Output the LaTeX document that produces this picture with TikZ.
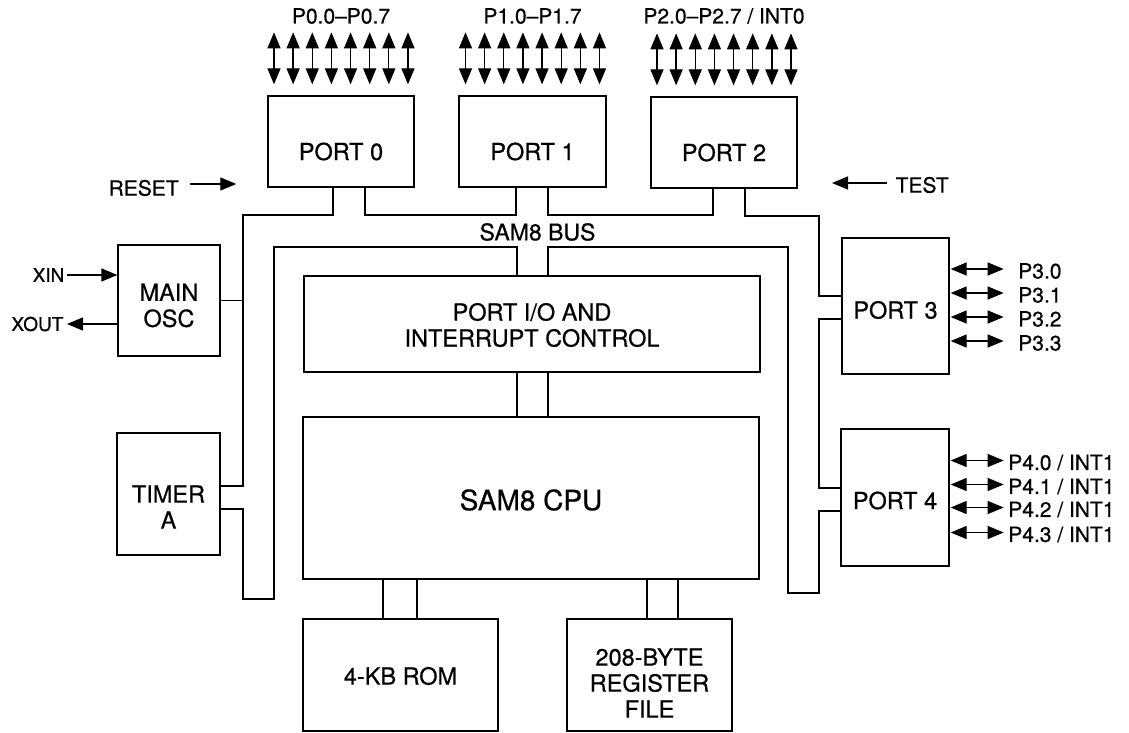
\documentclass[tikz,border=0pt]{standalone}
\usepackage{fontspec}
\setmainfont{TeX Gyre Heros}[FakeBold=0.6]
\usetikzlibrary{arrows.meta}
\begin{document}
\begin{tikzpicture}[x=1pt,y=-1pt,line width=1.3pt,
  box/.style={draw,rectangle,inner sep=0pt,line width=1.3pt},
  boxfont/.style={font=\fontsize{23.5}{26}\selectfont,align=center,inner sep=0pt},
  lbl/.style={font=\fontsize{21}{24}\selectfont,inner sep=0pt},
  xlbl/.style={font=\fontsize{19}{22}\selectfont,inner sep=0pt},
  bus/.style={line width=1.3pt,line join=miter},
  tip/.tip={Triangle[length=16pt,width=13pt]},
  bidir/.style={line width=1.3pt,tip-tip},
  uni/.style={line width=1.3pt,-tip}]

\useasboundingbox (0,0) rectangle (1129,733);

% boxes
\node[box,minimum width=146pt,minimum height=91pt,label={[boxfont,yshift=-10pt]center:PORT 0}] (port0) at (341,141.5) {};
\node[box,minimum width=147pt,minimum height=91pt,label={[boxfont,yshift=-10pt]center:PORT 1}] (port1) at (532.5,141.5) {};
\node[box,minimum width=146pt,minimum height=91pt,label={[boxfont,yshift=-10pt]center:PORT 2}] (port2) at (724,142.5) {};
\node[box,minimum width=102pt,minimum height=111pt,label={[boxfont,yshift=-5pt]center:MAIN\\OSC}] (osc) at (169,300.5) {};
\node[box,minimum width=103pt,minimum height=122pt,label={[boxfont,yshift=-13pt]center:TIMER\\A}] (timer) at (168.5,494) {};
\node[box,minimum width=456pt,minimum height=96pt,label={[boxfont,yshift=-1pt]center:PORT I/O AND\\INTERRUPT CONTROL}] (pio) at (532,324) {};
\node[box,minimum width=456pt,minimum height=162pt,label={[boxfont,font=\fontsize{28}{31}\selectfont,yshift=-2pt]center:SAM8 CPU}] (cpu) at (531,498) {};
\node[box,minimum width=195pt,minimum height=112pt,label={[boxfont,yshift=-1pt]center:4-KB ROM}] (rom) at (400.5,675) {};
\node[box,minimum width=165pt,minimum height=112pt,label={[boxfont,yshift=-8pt]center:208-BYTE\\REGISTER\\FILE}] (reg) at (649.5,675) {};
\node[box,minimum width=107pt,minimum height=136pt,label={[boxfont,yshift=-4pt]center:PORT 3}] (port3) at (895.5,306) {};
\node[box,minimum width=108pt,minimum height=137pt,label={[boxfont,yshift=-3pt]center:PORT 4}] (port4) at (895,497.5) {};

% bus lines
\draw[bus] (port0.south -| 333,0) -- (333,215) -- (243,215) -- (243,486) -- (timer.east |- 0,486);
\draw[bus] (osc.east) -- (osc.east -| 243,0);
\draw[bus] (port0.south -| 365,0) |- (516,215) -- (port1.south -| 516,0);
\draw[bus] (port1.south -| 548,0) |- (713,215) -- (port2.south -| 713,0);
\draw[bus] (port2.south -| 745,0) |- (819,216) |- (port3.west |- 0,296);
\draw[bus] (port3.west |- 0,319) -| (819,488) -- (port4.west |- 0,488);
\draw[bus] (port4.west |- 0,511) -| (819,593) -- (788,593) -- (788,247) -- (548,247) -- (pio.north -| 548,0);
\draw[bus] (timer.east |- 0,509) -- (243,509) -- (243,599) -- (274,599) -- (274,247) -- (517,247) -- (pio.north -| 517,0);
\draw[bus] (pio.south -| 517,0) -- (cpu.north -| 517,0);
\draw[bus] (pio.south -| 548,0) -- (cpu.north -| 548,0);
\draw[bus] (cpu.south -| 383,0) -- (rom.north -| 383,0);
\draw[bus] (cpu.south -| 417,0) -- (rom.north -| 417,0);
\draw[bus] (cpu.south -| 647,0) -- (reg.north -| 647,0);
\draw[bus] (cpu.south -| 678,0) -- (reg.north -| 678,0);

% top pin arrows
\foreach \p in {port0,port1,port2}{
  \foreach \i in {0,...,7}{
    \draw[bidir] ([shift={(-67+\i*19.14,-11)}]\p.north) -- ++(0,-52);
  }
}
\node[lbl] (l0) at (port0.north |- 0,16) {P0.0–P0.7};
\node[lbl] (l1) at (port1.north |- 0,16) {P1.0–P1.7};
\node[lbl] (l2) at (port2.north |- 0,16) {P2.0–P2.7 / INT0};

% port 3 pins
\foreach \dy/\t [count=\k] in {-37/{P3.0},-13/{P3.1},11/{P3.2},35/{P3.3}}{
  \draw[bidir] ([shift={(1,\dy)}]port3.east) -- ++(53,0);
  \node[lbl,anchor=west] (pthree\k) at ([shift={(68,\dy+2)}]port3.east) {\t};
}
% port 4 pins
\foreach \dy/\t [count=\k] in {-37/{P4.0 / INT1},-13/{P4.1 / INT1},10/{P4.2 / INT1},35/{P4.3 / INT1}}{
  \draw[bidir] ([shift={(1,\dy)}]port4.east) -- ++(53,0);
  \node[lbl,anchor=west] (pfour\k) at ([shift={(58,\dy+2)}]port4.east) {\t};
}

% oscillator pins
\node[xlbl,anchor=east] (xin) at (65,275) {XIN};
\draw[uni] ([xshift=2pt]xin.east) -- (osc.west |- xin.east);
\node[xlbl,anchor=east] (xout) at (64,324) {XOUT};
\draw[uni] (osc.west |- xout.east) -- ([xshift=3pt]xout.east);

% reset / test
\node[lbl,anchor=west] (reset) at (108,188) {RESET};
\draw[uni] ([shift={(11,-4)}]reset.east) -- ++(46,0);
\node[lbl,anchor=west] (test) at (895,185) {TEST};
\draw[uni] ([shift={(-8,-2)}]test.west) -- ++(-55,0);

% bus label
\node[lbl,font=\fontsize{23}{26}\selectfont] (busl) at (537.5,232) {SAM8 BUS};
\end{tikzpicture}
\end{document}
